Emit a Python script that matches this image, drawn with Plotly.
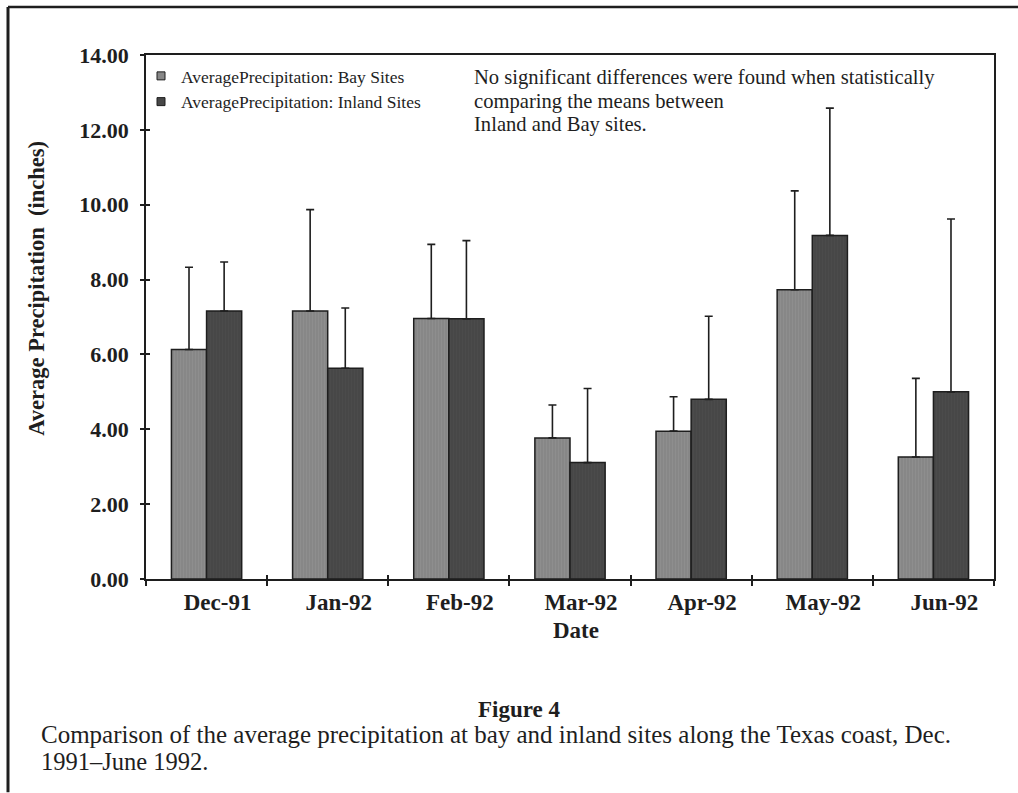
import plotly.graph_objects as go

# ---- data ----
dates = ["Dec-91", "Jan-92", "Feb-92", "Mar-92", "Apr-92", "May-92", "Jun-92"]
bay_mean = [6.13, 7.16, 6.96, 3.77, 3.95, 7.73, 3.26]
bay_sd = [2.20, 2.71, 1.98, 0.88, 0.92, 2.64, 2.10]
inland_mean = [7.16, 5.63, 6.95, 3.11, 4.80, 9.18, 5.00]
inland_sd = [1.31, 1.61, 2.09, 1.98, 2.22, 3.40, 4.62]
y_ticks = [0, 2, 4, 6, 8, 10, 12, 14]

W, H = 1018, 793
L, R, T, B = 146, 994, 55, 579.5
PW, PH = R - L, B - T


def xp(px):
    return (px - L) / PW


def yp(py):
    return (B - py) / PH


BAY = "#878787"
INL = "#474747"
INK = "#1e1e1e"
serif = "Liberation Serif, Times New Roman, serif"

fig = go.Figure()
fig.add_trace(go.Bar(
    x=dates, y=bay_mean, name="AveragePrecipitation: Bay Sites",
    marker=dict(color=BAY, line=dict(color=INK, width=1.5),
                pattern=dict(shape="|", fgcolor="#9a9a9a", size=3, solidity=0.25)),
    error_y=dict(type="data", symmetric=False, array=bay_sd,
                 arrayminus=[0] * len(bay_sd), color=INK, thickness=1.6, width=4),
    showlegend=False,
))
fig.add_trace(go.Bar(
    x=dates, y=inland_mean, name="AveragePrecipitation: Inland Sites",
    marker=dict(color=INL, line=dict(color=INK, width=1.5),
                pattern=dict(shape="|", fgcolor="#525252", size=3, solidity=0.25)),
    error_y=dict(type="data", symmetric=False, array=inland_sd,
                 arrayminus=[0] * len(inland_sd), color=INK, thickness=1.6, width=4),
    showlegend=False,
))
# legend proxies (small squares like the reference)
for nm, col in [("AveragePrecipitation: Bay Sites", BAY),
                ("AveragePrecipitation: Inland Sites", INL)]:
    fig.add_trace(go.Scatter(x=[None], y=[None], mode="markers", name=nm,
                             marker=dict(symbol="square", size=8, color=col,
                                         line=dict(color=INK, width=1))))

# overlay axes for the inward half of the crossing tick marks
fig.add_trace(go.Scatter(x=[-0.5, 6.5], y=[0, 14], xaxis="x2", yaxis="y2",
                         mode="markers", marker=dict(opacity=0), showlegend=False,
                         hoverinfo="skip"))

fig.update_layout(
    width=W, height=H,
    margin=dict(l=L, r=W - R, t=T, b=H - B, pad=0),
    paper_bgcolor="white", plot_bgcolor="white",
    barmode="group", bargap=0.42, bargroupgap=0,
    font=dict(family=serif, color=INK),
    legend=dict(x=xp(141), y=yp(58), xanchor="left", yanchor="top",
                bgcolor="rgba(0,0,0,0)", font=dict(size=17.5, family=serif, color=INK),
                tracegroupgap=0, itemwidth=30),
    xaxis=dict(type="category", showline=True, linecolor=INK, linewidth=1.6,
               mirror=True, ticks="outside", ticklen=5, tickwidth=1.6, tickcolor=INK,
               tickson="boundaries", ticklabelshift=11, ticklabelstandoff=2,
               tickfont=dict(family=serif, size=23, color=INK, weight="bold"),
               showgrid=False, zeroline=False),
    yaxis=dict(range=[0, 14], tickvals=y_ticks, tickformat=".2f",
               showline=True, linecolor=INK, linewidth=1.6, mirror=True,
               ticks="outside", ticklen=4, tickwidth=1.6, tickcolor=INK,
               ticklabelstandoff=7,
               tickfont=dict(family=serif, size=22, color=INK, weight="bold"),
               showgrid=False, zeroline=False),
    xaxis2=dict(overlaying="x", anchor="y2", range=[-0.5, 6.5],
                tickvals=[-0.5, 0.5, 1.5, 2.5, 3.5, 4.5, 5.5, 6.5],
                ticks="inside", ticklen=4, tickwidth=1.6, tickcolor=INK,
                showticklabels=False, showgrid=False, zeroline=False, showline=False),
    yaxis2=dict(overlaying="y", anchor="x2", side="left", range=[0, 14],
                tickvals=y_ticks, ticks="inside", ticklen=4, tickwidth=1.6,
                tickcolor=INK, showticklabels=False, showgrid=False,
                zeroline=False, showline=False),
)

note_lines = ["No significant differences were found when statistically",
              "comparing the means between",
              "Inland and Bay sites."]
caption_lines = ["Comparison of the average precipitation at bay and inland sites along the Texas coast, Dec.",
                 "1991\u2013June 1992."]
caption_sizes = [25, 24.5]

ann = [
    dict(x=xp(37), y=yp(288), xanchor="center", text="<b>Average Precipitation  (inches)</b>",
         textangle=-90, font=dict(size=22.5, family=serif, color=INK)),
    dict(x=xp(576), y=yp(631), xanchor="center", text="<b>Date</b>",
         font=dict(size=23, family=serif, color=INK)),
    dict(x=xp(519), y=yp(710), xanchor="center", text="<b>Figure 4</b>",
         font=dict(size=23, family=serif, color=INK)),
]
for i, line in enumerate(note_lines):
    ann.append(dict(x=xp(472), y=yp(78 + 23.5 * i), xanchor="left", text=line,
                    font=dict(size=20.6, family=serif, color=INK)))
for i, line in enumerate(caption_lines):
    ann.append(dict(x=xp(39), y=yp(735.5 + 27 * i), xanchor="left", text=line,
                    font=dict(size=caption_sizes[i], family=serif, color=INK)))
for a in ann:
    a.update(xref="paper", yref="paper", showarrow=False, yanchor="middle")
fig.update_layout(annotations=ann)

# outer figure frame (top and left edges)
fig.add_shape(type="line", xref="paper", yref="paper", x0=xp(8), x1=xp(1018),
              y0=yp(7), y1=yp(7), line=dict(color=INK, width=2.5))
fig.add_shape(type="line", xref="paper", yref="paper", x0=xp(8), x1=xp(8),
              y0=yp(7), y1=yp(793), line=dict(color=INK, width=3))

fig.write_html("out.html")
